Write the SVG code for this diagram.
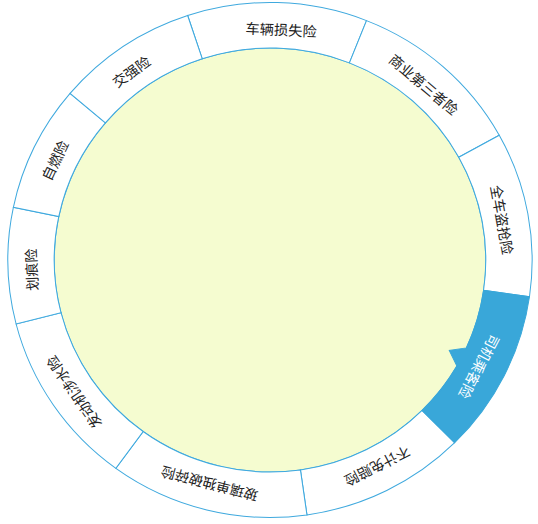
<svg xmlns="http://www.w3.org/2000/svg" width="538" height="524" viewBox="0 0 538 524">
<style>
.seg{fill:#ffffff;stroke:#3fa9de;stroke-width:1}
.hl{fill:#39a7d9;stroke:#39a7d9;stroke-width:1}
.core{fill:#f5fcd0;stroke:#3fa9de;stroke-width:1}
.t{font-family:"Noto Sans CJK SC","Noto Sans",sans-serif;font-size:14px;fill:#222;text-anchor:middle;dominant-baseline:central}
.tw{fill:#ffffff}
</style>
<rect width="538" height="524" fill="#ffffff"/>
<g transform="translate(270,260) scale(1.018,1)">
<g id="center"><circle class="core" cx="0" cy="0" r="212"/></g>
<g id="seg-cheliang"><path class="seg" d="M-80.9,-244.5 A257.5,257.5 0 0 1 94.8,-239.4 L78,-197.1 A212,212 0 0 0 -66.6,-201.3 Z"/><text class="t" transform="rotate(2.7) translate(0,-231)">车辆损失险</text></g>
<g id="seg-shangye"><path class="seg" d="M94.8,-239.4 A257.5,257.5 0 0 1 225.2,-124.8 L185.4,-102.8 A212,212 0 0 0 78,-197.1 Z"/><text class="t" transform="rotate(40.7) translate(0,-232)">商业第三者险</text></g>
<g id="seg-quanche"><path class="seg" d="M225.2,-124.8 A257.5,257.5 0 0 1 254.9,36.7 L209.8,30.2 A212,212 0 0 0 185.4,-102.8 Z"/><text class="t" transform="rotate(80) translate(0,-232)">全车盗抢险</text></g>
<g id="seg-buji"><path class="seg" d="M181.4,182.7 A257.5,257.5 0 0 1 36.3,254.9 L29.9,209.9 A212,212 0 0 0 149.4,150.4 Z"/><text class="t" transform="rotate(152.9) translate(0,-232)">不计免赔险</text></g>
<g id="seg-boli"><path class="seg" d="M36.3,254.9 A257.5,257.5 0 0 1 -151.4,208.3 L-124.6,171.5 A212,212 0 0 0 29.9,209.9 Z"/><text class="t" transform="rotate(194.9) translate(0,-232)">玻璃单独破碎险</text></g>
<g id="seg-fadongji"><path class="seg" d="M-151.4,208.3 A257.5,257.5 0 0 1 -249.4,64 L-205.3,52.7 A212,212 0 0 0 -124.6,171.5 Z"/><text class="t" transform="rotate(235.5) translate(0,-234)">发动机涉水险</text></g>
<g id="seg-huahen"><path class="seg" d="M-249.4,64 A257.5,257.5 0 0 1 -252.1,-52.7 L-207.5,-43.4 A212,212 0 0 0 -205.3,52.7 Z"/><text class="t" transform="rotate(267.6) translate(0,-235)">划痕险</text></g>
<g id="seg-ziran"><path class="seg" d="M-252.1,-52.7 A257.5,257.5 0 0 1 -196.4,-166.6 L-161.7,-137.1 A212,212 0 0 0 -207.5,-43.4 Z"/><text class="t" transform="rotate(295.2) translate(0,-234)">自燃险</text></g>
<g id="seg-jiaoqiang"><path class="seg" d="M-196.4,-166.6 A257.5,257.5 0 0 1 -80.9,-244.5 L-66.6,-201.3 A212,212 0 0 0 -161.7,-137.1 Z"/><text class="t" transform="rotate(324.1) translate(0,-233)">交强险</text></g>
<g id="seg-siji"><path class="hl" d="M254.9,36.7 A257.5,257.5 0 0 1 181.4,182.7 L149.4,150.4 A212,212 0 0 0 183.6,106 L176.1,90.5 L192.9,87.9 A212,212 0 0 0 209.8,30.2 Z"/><text class="t tw" transform="rotate(117.4) translate(0,-232)">司机乘客险</text></g>
</g>
</svg>
